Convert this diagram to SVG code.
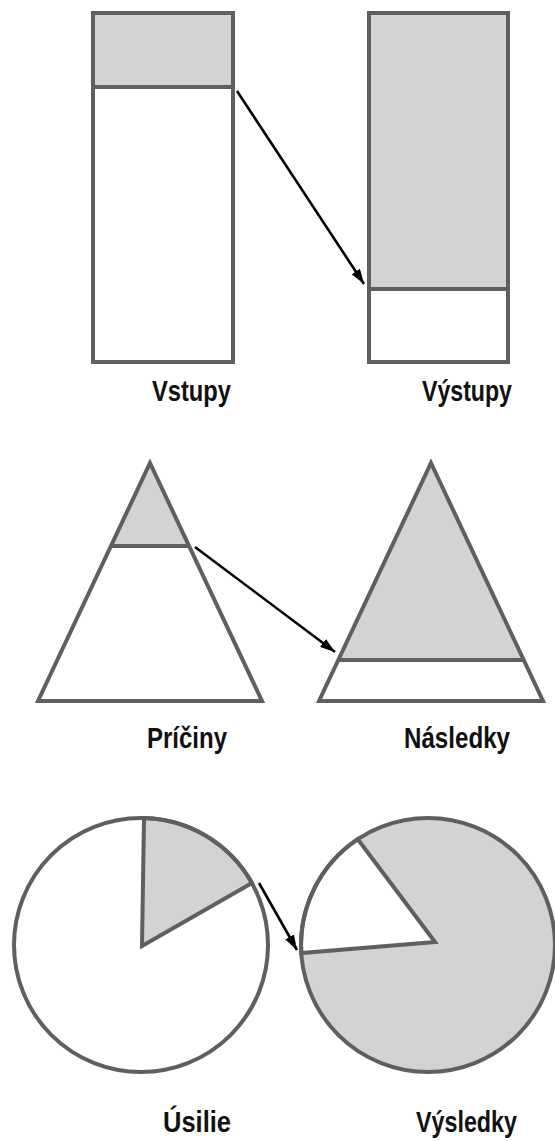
<svg xmlns="http://www.w3.org/2000/svg" width="555" height="1141" viewBox="0 0 555 1141">
  <style>
    .shape { stroke: #5f5f60; stroke-width: 4; stroke-linejoin: miter; }
    .fill { fill: #d1d3d4; }
    .blank { fill: #ffffff; }
    .edge { fill: none; stroke: #5f5f60; stroke-width: 4; }
    .conn { fill: none; stroke: #000000; stroke-width: 2.6; marker-end: url(#head); }
    .label { font-family: "Liberation Sans", Arial, sans-serif; font-weight: bold; font-size: 30px; fill: #111111; }
  </style>
  <defs>
    <marker id="head" viewBox="0 0 15 10" refX="15" refY="5" markerWidth="15" markerHeight="10" markerUnits="userSpaceOnUse" orient="auto">
      <path d="M0,0 L15,5 L0,10 Z" fill="#000000"/>
    </marker>
  </defs>

  <rect width="555" height="1141" fill="#ffffff"/>

  <!-- Inputs: tall bar with a small shaded top -->
  <g id="vstupy">
    <rect x="93" y="13" width="140" height="74" class="fill"/>
    <rect x="93" y="13" width="140" height="349" class="edge"/>
    <line x1="93" y1="87" x2="233" y2="87" class="edge"/>
    <text x="152" y="401" class="label" textLength="79" lengthAdjust="spacingAndGlyphs">Vstupy</text>
  </g>

  <!-- Outputs: tall bar mostly shaded -->
  <g id="vystupy">
    <rect x="369" y="13" width="139" height="276" class="fill"/>
    <rect x="369" y="13" width="139" height="349" class="edge"/>
    <line x1="369" y1="289" x2="508" y2="289" class="edge"/>
    <text x="422" y="401" class="label" textLength="90" lengthAdjust="spacingAndGlyphs">Výstupy</text>
  </g>

  <!-- Causes: triangle with a small shaded tip -->
  <g id="priciny">
    <path d="M150,463 L189,546 L111,546 Z" class="fill"/>
    <path d="M150,463 L262,701 L38,701 Z" class="edge"/>
    <line x1="111" y1="546" x2="189" y2="546" class="edge"/>
    <text x="147" y="748" class="label" textLength="80" lengthAdjust="spacingAndGlyphs">Príčiny</text>
  </g>

  <!-- Effects: triangle mostly shaded -->
  <g id="nasledky">
    <path d="M431,463 L523.6,660 L338.4,660 Z" class="fill"/>
    <path d="M431,463 L543,701 L319,701 Z" class="edge"/>
    <line x1="338.4" y1="660" x2="523.6" y2="660" class="edge"/>
    <text x="404" y="748" class="label" textLength="106" lengthAdjust="spacingAndGlyphs">Následky</text>
  </g>

  <!-- Effort: circle with a small shaded slice -->
  <g id="usilie">
    <circle cx="141" cy="945" r="127" fill="#ffffff"/>
    <path d="M142,946 L144,818 A127,127 0 0,1 252,883 Z" class="fill shape"/>
    <circle cx="141" cy="945" r="127" class="edge"/>
    <text x="163" y="1132" class="label" textLength="68" lengthAdjust="spacingAndGlyphs">Úsilie</text>
  </g>

  <!-- Results: circle mostly shaded, small white slice -->
  <g id="vysledky">
    <circle cx="428" cy="945" r="127" class="fill"/>
    <path d="M435,942 L357.8,839.2 A127,127 0 0,0 301.3,953.1 Z" class="blank shape"/>
    <circle cx="428" cy="945" r="127" class="edge"/>
    <text x="416" y="1132" class="label" textLength="101" lengthAdjust="spacingAndGlyphs">Výsledky</text>
  </g>

  <g id="connectors">
    <line x1="237" y1="91" x2="364" y2="284" class="conn"/>
    <line x1="195" y1="547" x2="335" y2="652" class="conn"/>
    <line x1="259" y1="883" x2="297" y2="950" class="conn"/>
  </g>
</svg>
